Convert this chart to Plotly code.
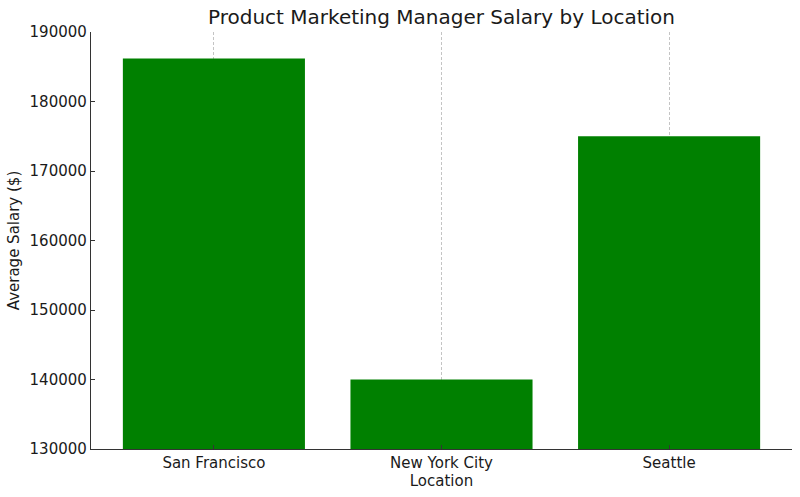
import plotly.graph_objects as go

locations = ["San Francisco", "New York City", "Seattle"]
salaries = [186200, 140000, 175000]
y_ticks = [130000, 140000, 150000, 160000, 170000, 180000, 190000]

fig = go.Figure()
fig.add_trace(go.Bar(
    x=locations, y=salaries, width=0.8,
    marker=dict(color="#008000", line=dict(width=0)),
))

font = "DejaVu Sans, Liberation Sans, sans-serif"
fig.update_layout(
    width=800, height=497,
    margin=dict(l=91, r=8, t=32, b=48),
    plot_bgcolor="white", paper_bgcolor="white",
    font=dict(family=font, size=15, color="#1a1a1a"),
    title=dict(text="Product Marketing Manager Salary by Location",
               x=0.5, xref="paper", xanchor="center", y=1 - 17 / 497, yanchor="middle",
               font=dict(size=20, color="#1a1a1a")),
    showlegend=False,
    bargap=0.2,
)
fig.update_xaxes(
    title=dict(text="Location", standoff=2, font=dict(size=15)),
    range=[-0.54, 2.54],
    showline=True, linecolor="#333", linewidth=1.3,
    ticks="inside", ticklen=4, tickcolor="#333",
    showgrid=True, gridcolor="#c4c4c4", griddash="3px,2px", gridwidth=0.8,
    tickfont=dict(size=15),
    zeroline=False,
)
fig.update_yaxes(
    title=dict(text="Average Salary ($)", standoff=6, font=dict(size=15)),
    range=[130000, 190000],
    tickvals=y_ticks, ticktext=[str(v) for v in y_ticks],
    showline=True, linecolor="#333", linewidth=1.3,
    ticks="inside", ticklen=4, tickcolor="#333",
    showgrid=False, zeroline=False,
    tickfont=dict(size=15),
)
fig.write_html("out.html", config={"displayModeBar": False},
               post_script="document.body.style.margin='0';")
